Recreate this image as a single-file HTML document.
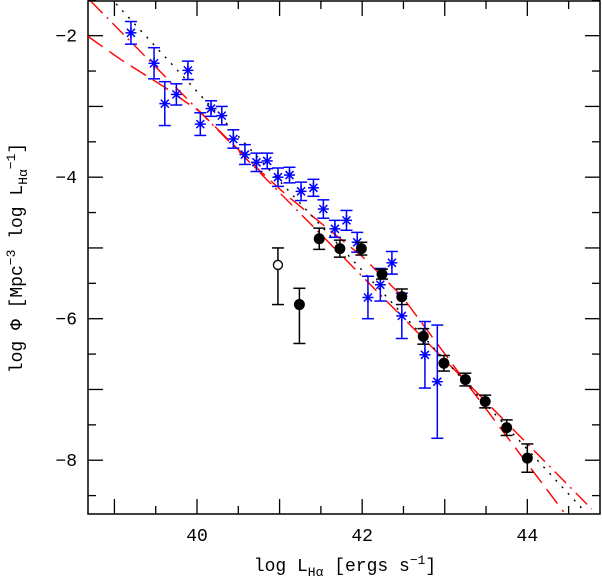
<!DOCTYPE html>
<html><head><meta charset="utf-8"><style>
html,body{margin:0;padding:0;background:#fff}
svg{display:block}
text{font-family:"Liberation Mono","DejaVu Sans Mono",monospace;fill:#000}
</style></head><body>
<svg id="chart" width="602" height="579" viewBox="0 0 602 579" xmlns="http://www.w3.org/2000/svg">
<g id="axes"></g>
<g id="lines"></g>
<g id="marks"></g>
<text x="345" y="571" text-anchor="middle" font-size="18">log L<tspan font-size="13" dy="5">Hα</tspan><tspan dy="-5"> [ergs s</tspan><tspan font-size="13" dy="-7">−1</tspan><tspan dy="7">]</tspan></text>
<text transform="translate(22,258) rotate(-90)" text-anchor="middle" font-size="18">log Φ [Mpc<tspan font-size="13" dy="-7">−3</tspan><tspan dy="7"> log L</tspan><tspan font-size="13" dy="5">Hα</tspan><tspan font-size="13" dy="-12">−1</tspan><tspan dy="7">]</tspan></text>
</svg>
<script>
const blueX=[39.20,39.48,39.61,39.75,39.89,40.04,40.17,40.30,40.44,40.58,40.72,40.85,40.98,41.12,41.26,41.41,41.53,41.67,41.81,41.94,42.07,42.22,42.36,42.48,42.76,42.91];
const blueY=[-1.96,-2.39,-2.96,-2.83,-2.49,-3.25,-3.03,-3.13,-3.46,-3.68,-3.79,-3.77,-4.00,-3.97,-4.20,-4.15,-4.45,-4.73,-4.61,-4.92,-5.70,-5.52,-5.21,-5.96,-6.51,-6.89];
const blueErr=[0.16,0.22,0.31,0.15,0.13,0.16,0.11,0.13,0.13,0.14,0.13,0.11,0.13,0.11,0.13,0.12,0.13,0.12,0.14,0.14,0.30,0.23,0.16,0.32,0.47,0.80];
const blackX=[41.24,41.48,41.73,41.99,42.24,42.48,42.74,42.99,43.25,43.49,43.75,44.00];
const blackY=[-5.80,-4.87,-5.01,-5.01,-5.37,-5.69,-6.25,-6.63,-6.86,-7.17,-7.54,-7.97];
const blackErrUp=[0.23,0.15,0.12,0.09,0.07,0.11,0.11,0.11,0.09,0.09,0.11,0.20];
const blackErrDown=[0.55,0.15,0.12,0.09,0.07,0.11,0.11,0.11,0.09,0.09,0.11,0.20];
const openX=[40.98];
const openY=[-5.24];
const openErrUp=[0.24];
const openErrDown=[0.56];
const fitLongDashX=[38.68,39.08,39.61,40.04,40.78,41.10,42.00,42.48,43.27,44.44];
const fitLongDashY=[-2.01,-2.34,-2.73,-3.08,-3.93,-4.27,-5.12,-5.68,-6.92,-8.73];
const fitDashDotX=[38.72,44.78];
const fitDashDotY=[-1.52,-8.69];
const fitDottedX=[39.02,44.70];
const fitDottedY=[-1.55,-8.73];
const xTicks=[40,42,44];
const yTicks=[-2,-4,-6,-8];

const L=88,R=600,T=1,B=514;
const xMin=38.68,xMax=44.88,yMin=-8.76,yMax=-1.51;
const sx=v=>L+(v-xMin)/(xMax-xMin)*(R-L);
const sy=v=>B-(v-yMin)/(yMax-yMin)*(B-T);
const NS="http://www.w3.org/2000/svg";
function mk(tag,attrs,parent){const e=document.createElementNS(NS,tag);for(const k in attrs)e.setAttribute(k,attrs[k]);parent.appendChild(e);return e;}
const axes=document.getElementById('axes'),lines=document.getElementById('lines'),marks=document.getElementById('marks');

let fr=mk('rect',{x:L,y:T,width:R-L,height:B-T,fill:'none',stroke:'#000','stroke-width':1.5},axes);


for(let v=39;v<=44.8;v+=0.5){const X=sx(v),maj=Math.abs(v-Math.round(v))<1e-6;const len=maj?15:8;
 mk('line',{x1:X,y1:B,x2:X,y2:B-len,stroke:'#000','stroke-width':1.3},axes);
 mk('line',{x1:X,y1:T,x2:X,y2:T+len,stroke:'#000','stroke-width':1.3},axes);}
for(let v=-8.5;v<=-1.5;v+=0.5){const Y=sy(v),maj=Math.abs(v-Math.round(v))<1e-6;const len=maj?15:8;
 mk('line',{x1:L,y1:Y,x2:L+len,y2:Y,stroke:'#000','stroke-width':1.3},axes);
 mk('line',{x1:R,y1:Y,x2:R-len,y2:Y,stroke:'#000','stroke-width':1.3},axes);}
xTicks.forEach(v=>{const t=mk('text',{x:sx(v),y:541,'text-anchor':'middle','font-size':18},axes);t.textContent=v;
 
 });
yTicks.forEach(v=>{const t=mk('text',{x:77,y:sy(v)+6,'text-anchor':'end','font-size':18},axes);t.textContent='−'+Math.abs(v);
 
 });

function fit(xs,ys,dash,color,name){const pts=xs.map((v,i)=>sx(v)+','+sy(ys[i])).join(' ');
 const l=mk('polyline',{points:pts,fill:'none',stroke:color,'stroke-width':1.4,'stroke-dasharray':dash},lines);
 
 }
fit(fitLongDashX,fitLongDashY,'18 8','#f00','fit-long-dash');
fit(fitDashDotX,fitDashDotY,'16 6 2 6','#f00','fit-dash-dot');
fit(fitDottedX,fitDottedY,'2 7','#000','fit-dotted');

function errbar(X,yv,up,dn,color){const x=sx(X);mk('line',{x1:x,y1:sy(yv+up),x2:x,y2:sy(yv-dn),stroke:color,'stroke-width':1.5},marks);
 mk('line',{x1:x-6,y1:sy(yv+up),x2:x+6,y2:sy(yv+up),stroke:color,'stroke-width':1.5},marks);
 mk('line',{x1:x-6,y1:sy(yv-dn),x2:x+6,y2:sy(yv-dn),stroke:color,'stroke-width':1.5},marks);}
blueX.forEach((v,i)=>{errbar(v,blueY[i],blueErr[i],blueErr[i],'#0000ff');
 const g=mk('g',{stroke:'#0000ff','stroke-width':1.5},marks);
 
 
 const x=sx(v),y=sy(blueY[i]),r=5.5;
 mk('line',{x1:x-r,y1:y,x2:x+r,y2:y},g);mk('line',{x1:x,y1:y-r,x2:x,y2:y+r},g);
 mk('line',{x1:x-4,y1:y-4,x2:x+4,y2:y+4},g);mk('line',{x1:x-4,y1:y+4,x2:x+4,y2:y-4},g);});
blackX.forEach((v,i)=>{errbar(v,blackY[i],blackErrUp[i],blackErrDown[i],'#000');
 const c=mk('circle',{cx:sx(v),cy:sy(blackY[i]),r:5.5,fill:'#000'},marks);
 
 });
openX.forEach((v,i)=>{errbar(v,openY[i],openErrUp[i],openErrDown[i],'#000');
 const c=mk('circle',{cx:sx(v),cy:sy(openY[i]),r:4.5,fill:'#fff',stroke:'#000','stroke-width':1.3},marks);
 
 });
</script>
</body></html>
